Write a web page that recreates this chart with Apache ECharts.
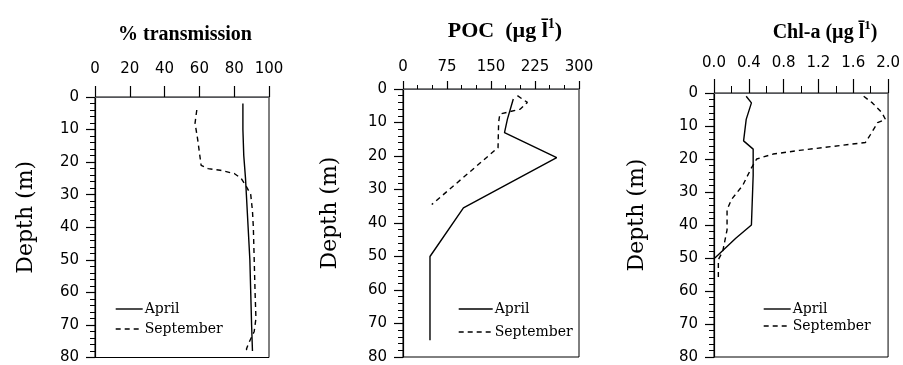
<!DOCTYPE html>
<html>
<head>
<meta charset="utf-8">
<script src="https://cdn.jsdelivr.net/npm/echarts@6/dist/echarts.min.js"></script>
<style>
html,body{margin:0;padding:0;background:#fff}
#chart{width:903px;height:365px}
</style>
</head>
<body>
<div id="chart"></div>
<script>
// depth profiles: [value, depth (m)]
var transApril = [[85,2],[85,10],[85.5,18],[86.5,25],[87,30],[88,40],[89,50],[89.5,60],[90,70],[90.5,78]];
var transSept = [[58.5,4],[57.5,8],[59,13],[60,17],[61,21],[65,22],[72,22.5],[80,23.5],[84,25],[87,27.5],[89.5,30],
        [90.5,35],[91,40],[91.5,50],[92,60],[92.5,68],[91.5,72],[88,76],[87,77.5],[89,78.5]];
var pocApril = [[188,3],[178,9],[173,13],[262,20.5],[103,35.5],[46,50],[46,75]];
var pocSept = [[195,2],[212,4],[200,6],[165,7.5],[163,10],[162,17.5],[49,34.5]];
var chlApril = [[0.37,1],[0.43,3],[0.37,8],[0.34,14.5],[0.45,17],[0.45,25],[0.43,40],[0.25,44],[0.01,50]];
var chlSept = [[1.72,1],[1.82,3],[1.93,6],[1.97,8],[1.88,9],[1.80,12.5],[1.74,15],[1.36,16.2],[0.98,17.4],
        [0.68,18.5],[0.49,20],[0.43,22.7],[0.33,28],[0.2,32.3],[0.15,35.4],[0.15,41.5],[0.1,48],[0.05,50.5],[0.05,57]];

var xMax = [100, 300, 2.0];
var xStep = [20, 75, 0.4];
var depthMax = 80, depthStep = 10;

var serif = 'DejaVu Serif', sans = 'DejaVu Sans';
var myChart = echarts.init(document.getElementById('chart'));

var grids = [
        {left: 95, top: 97, width: 174, height: 262},
        {left: 403, top: 89, width: 176, height: 268},
        {left: 714, top: 93, width: 175, height: 264}
];
grids.forEach(function (g) {
        g.show = true; g.borderColor = '#000'; g.borderWidth = 1; g.backgroundColor = 'transparent';
});

var xMinor = [0, 3, 2], xTick = [11, 8, 14], xMinorLen = [0, 4, 7], xMargin = [20, 14, 22];
var xAxes = [0, 1, 2].map(function (i) {
        return {
                gridIndex: i, type: 'value', position: 'top', min: 0, max: xMax[i], interval: xStep[i],
                axisTick: {show: true, length: xTick[i], lineStyle: {color: '#000', width: 1.2}},
                minorTick: {show: xMinor[i] > 0, splitNumber: xMinor[i] || 2, length: xMinorLen[i], lineStyle: {color: '#000'}},
                splitLine: {show: false},
                axisLabel: {margin: xMargin[i], color: '#000', fontFamily: sans, fontSize: 15,
                        formatter: i == 2 ? function (v) { return v.toFixed(1); } : '{value}'}
        };
});

var nameGap = [58, 62, 66];
var yAxes = [0, 1, 2].map(function (i) {
        return {
                gridIndex: i, type: 'value', inverse: true, min: 0, max: depthMax, interval: depthStep,
                name: 'Depth (m)', nameLocation: 'middle', nameRotate: 90, nameGap: nameGap[i],
                nameTextStyle: {fontFamily: serif, fontSize: 22, color: '#000', padding: [0, 0, 0, 20]},
                axisLine: {show: true, lineStyle: {color: '#000', width: 1.2}},
                axisTick: {show: true, length: 9, lineStyle: {color: '#000', width: 1.2}},
                minorTick: {show: true, splitNumber: 5, length: 5, lineStyle: {color: '#000'}},
                splitLine: {show: false},
                axisLabel: {margin: 16, color: '#000', fontFamily: sans, fontSize: 15}
        };
});

function line(name, data, idx, dashed) {
        return {
                name: name, type: 'line', xAxisIndex: idx, yAxisIndex: idx, data: data,
                symbol: 'none', showSymbol: false, smooth: false,
                lineStyle: {color: '#000', width: 1.4, type: dashed ? [5, 4] : 'solid'},
                itemStyle: {color: '#000'}
        };
}

var legendPos = [[110, 297, 6, 27], [453, 297, 9, 34], [758, 297, 3, 27]];
var legends = legendPos.map(function (p) {
        return {
                orient: 'vertical', left: p[0], top: p[1], itemGap: p[2], itemWidth: p[3], itemHeight: 14,
                selectedMode: false, data: ['April', 'September'],
                itemStyle: {opacity: 0},
                lineStyle: {width: 1.4},
                textStyle: {fontFamily: serif, fontSize: 14, color: '#000', padding: [0, 0, 0, -3]}
        };
});

option = {
        backgroundColor: '#fff',
        animation: false,
        title: [
                {text: '% transmission', left: 180, top: 20, textAlign: 'center',
                        textStyle: {fontFamily: 'Liberation Serif', fontWeight: 'bold', fontSize: 20, color: '#000'}},
                {text: '{a|POC  (µg l\u0304}{s|1}{a|)}', left: 500, top: 12, textAlign: 'center',
                        textStyle: {rich: {
                                a: {fontFamily: 'Liberation Serif', fontSize: 22, color: '#000', lineHeight: 28},
                                s: {fontFamily: 'Liberation Serif', fontSize: 14, color: '#000', verticalAlign: 'top', lineHeight: 28}
                        }}},
                {text: '{a|Chl-a (µg l\u0304}{s|1}{a|)}', left: 820, top: 14, textAlign: 'center',
                        textStyle: {rich: {
                                a: {fontFamily: 'Liberation Serif', fontWeight: 'bold', fontSize: 20, color: '#000', lineHeight: 28},
                                s: {fontFamily: 'Liberation Serif', fontWeight: 'bold', fontSize: 13, color: '#000', verticalAlign: 'top', lineHeight: 28}
                        }}}
        ],
        legend: legends,
        grid: grids,
        xAxis: xAxes,
        yAxis: yAxes,
        series: [
                line('April', transApril, 0, false),
                line('September', transSept, 0, true),
                line('April', pocApril, 1, false),
                line('September', pocSept, 1, true),
                line('April', chlApril, 2, false),
                line('September', chlSept, 2, true)
        ]
};
myChart.setOption(option);
</script>
</body>
</html>
